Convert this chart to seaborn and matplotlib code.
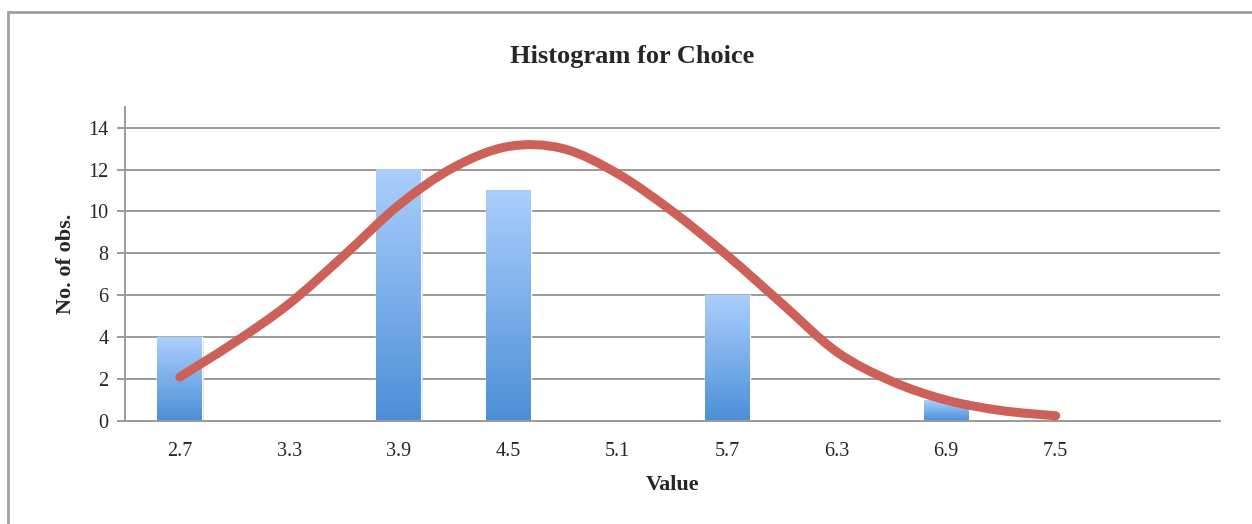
import numpy as np
import pandas as pd
import seaborn as sns
import matplotlib
matplotlib.use('Agg')
import matplotlib.pyplot as plt
from matplotlib.colors import LinearSegmentedColormap
from matplotlib.patches import Rectangle, PathPatch
from matplotlib.path import Path

# bins and counts (last slot is an empty category)
bin_labels = ['2.7', '3.3', '3.9', '4.5', '5.1', '5.7', '6.3', '6.9', '7.5', ' ']
counts = [4, 0, 12, 11, 0, 6, 0, 1, 0, 0]

# fitted curve, read every half bin (position = bin index)
curve_pos = [0, 0.5, 1, 1.5, 2, 2.5, 3, 3.5, 4, 4.5, 5, 5.5, 6, 6.5, 7, 7.5, 8]
curve_val = [2.1, 3.75, 5.6, 7.9, 10.3, 12.1, 13.1, 13.0, 11.8, 10.0, 7.9, 5.6, 3.3, 1.9, 1.0, 0.5, 0.25]

hist_df = pd.DataFrame({'Value': bin_labels, 'obs': counts})

sns.set_style('white')
plt.rcParams['font.family'] = ['Liberation Serif', 'DejaVu Serif']

fig = plt.figure(figsize=(12.52, 5.24), dpi=100)
ax = fig.add_axes([125 / 1252, 1 - 421 / 524, (1220 - 125) / 1252, (421 - 106.7) / 524])

ax.set_axisbelow(True)
ax.yaxis.grid(True, color='#9a9a9a', linewidth=1.4)

sns.barplot(data=hist_df, x='Value', y='obs', order=bin_labels, color='#6aa6e8',
            width=0.41, ax=ax, zorder=2)

# blue vertical gradient on each bar
grad = LinearSegmentedColormap.from_list('bar', ['#4c8fd7', '#abcffd'])
for p in list(ax.patches):
    h = p.get_height()
    if h <= 0:
        continue
    x0 = p.get_x()
    w = p.get_width()
    ax.add_patch(Rectangle((x0 + 0.012, 0), w, h, color='#dcdcdc', zorder=1.9, lw=0))
    ax.imshow(np.linspace(0, 1, 256).reshape(-1, 1), cmap=grad, origin='lower',
              extent=[x0, x0 + w, 0, h], aspect='auto', zorder=2.1)

# smoothed line through the read points (Excel style "smoothed line")
px = np.array(curve_pos, dtype=float)
py = np.array(curve_val, dtype=float)
verts = [(px[0], py[0])]
codes = [Path.MOVETO]
n = len(px)
for i in range(n - 1):
    i0, i3 = max(i - 1, 0), min(i + 2, n - 1)
    c1 = (px[i] + (px[i + 1] - px[i0]) / 6, py[i] + (py[i + 1] - py[i0]) / 6)
    c2 = (px[i + 1] - (px[i3] - px[i]) / 6, py[i + 1] - (py[i3] - py[i]) / 6)
    verts += [c1, c2, (px[i + 1], py[i + 1])]
    codes += [Path.CURVE4] * 3
ax.add_patch(PathPatch(Path(verts, codes), fill=False, edgecolor='#cd6058', linewidth=6.5,
                       capstyle='round', joinstyle='round', zorder=3))

ax.set_xlim(-0.5, 9.5)
ax.set_ylim(0, 15)
ax.set_yticks(range(0, 15, 2))
ax.set_xticks(range(len(bin_labels)))
ax.set_xticklabels(bin_labels)
ax.set_xticks(np.arange(-0.5, 10, 1), minor=True)
ax.tick_params(axis='x', which='major', length=0, pad=15, labelsize=14.5)
ax.tick_params(axis='x', which='minor', length=6, width=1.4, color='#9a9a9a', direction='out')
ax.tick_params(axis='y', length=6, width=1.4, color='#9a9a9a', direction='out', pad=6,
               labelsize=14.5, left=True)

for side in ['top', 'right']:
    ax.spines[side].set_visible(False)
for side in ['left', 'bottom']:
    ax.spines[side].set_color('#9a9a9a')
    ax.spines[side].set_linewidth(1.4)

ax.set_xlabel('Value', fontsize=16, fontweight='bold', labelpad=10)
ax.set_ylabel('No. of obs.', fontsize=16, fontweight='bold', labelpad=9)
fig.text(632 / 1252, 1 - 56 / 524, 'Histogram for Choice', ha='center', va='center',
         fontsize=19, fontweight='bold')

# chart frame (only top and left edges are inside the picture)
fig.add_artist(Rectangle((8 / 1252, -0.2), 1.2, 1.2 - 12 / 524, transform=fig.transFigure,
                         fill=False, edgecolor='#a0a0a0', linewidth=2))

fig.savefig('out.png', dpi=100)
